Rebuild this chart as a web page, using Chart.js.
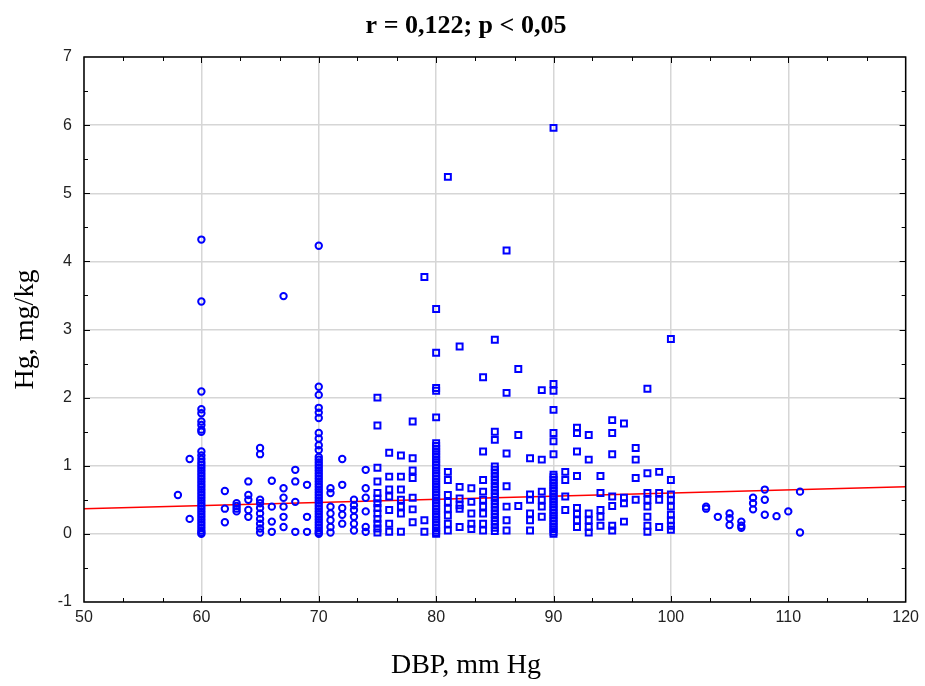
<!DOCTYPE html>
<html>
<head>
<meta charset="utf-8">
<script src="https://cdn.jsdelivr.net/npm/chart.js@4"></script>
<style>
  html, body { margin:0; padding:0; background:#fff; }
  canvas { display:block; }
</style>
</head>
<body>
<canvas id="chart" width="925" height="686"></canvas>
<script>
// DBP levels (mm Hg) and the Hg values (mg/kg) read at each level
const dbpLevels = [58, 59, 60, 62, 63, 64, 65, 66, 67, 68, 69, 70, 71, 72, 73, 74, 75, 76, 77, 78, 79, 80,
  81, 82, 83, 84, 85, 86, 87, 88, 89, 90, 91, 92, 93, 94, 95, 96, 97, 98, 99, 100,
  103, 104, 105, 106, 107, 108, 109, 110, 111];
const hgByLevel = [
  [0.57],
  [1.10, 0.22],
  [4.32, 3.41, 2.09, 1.83, 1.77, 1.65, 1.60, 1.53, 1.50, 1.21, 1.15, 1.10, 1.05, 1.01, 0.97, 0.93, 0.89, 0.85, 0.81, 0.77,
   0.73, 0.69, 0.65, 0.61, 0.57, 0.53, 0.49, 0.45, 0.41, 0.37, 0.33, 0.29, 0.25, 0.21, 0.17, 0.13, 0.09, 0.05, 0.02, 0.00],
  [0.63, 0.37, 0.17],
  [0.45, 0.41, 0.37, 0.33],
  [0.77, 0.57, 0.50, 0.35, 0.25],
  [1.26, 1.17, 0.50, 0.45, 0.38, 0.30, 0.22, 0.15, 0.08, 0.02],
  [0.78, 0.40, 0.18, 0.03],
  [3.49, 0.67, 0.53, 0.40, 0.25, 0.10],
  [0.94, 0.77, 0.47, 0.03],
  [0.72, 0.25, 0.03],
  [4.23, 2.16, 2.04, 1.85, 1.78, 1.70, 1.48, 1.40, 1.30, 1.23, 1.13, 1.09, 1.05, 1.01, 0.97, 0.93, 0.89, 0.85, 0.81, 0.77,
   0.73, 0.69, 0.65, 0.61, 0.57, 0.53, 0.49, 0.45, 0.41, 0.37, 0.33, 0.29, 0.25, 0.21, 0.17, 0.13, 0.09, 0.05, 0.02, 0.00],
  [0.67, 0.60, 0.40, 0.30, 0.20, 0.10, 0.02],
  [1.10, 0.72, 0.38, 0.28, 0.15],
  [0.50, 0.42, 0.35, 0.25, 0.15, 0.05],
  [0.94, 0.67, 0.53, 0.33, 0.10, 0.03],
  [2.00, 1.59, 0.97, 0.77, 0.60, 0.52, 0.45, 0.38, 0.30, 0.22, 0.15, 0.08, 0.02],
  [1.19, 0.84, 0.65, 0.55, 0.35, 0.15, 0.03],
  [1.15, 0.84, 0.65, 0.50, 0.40, 0.30, 0.03],
  [1.65, 1.11, 0.93, 0.82, 0.53, 0.36, 0.17],
  [3.77, 0.20, 0.03],
  [3.30, 2.66, 2.14, 2.10, 1.71, 1.33, 1.29, 1.25, 1.21, 1.17, 1.13, 1.09, 1.05, 1.01, 0.97, 0.93, 0.89, 0.85, 0.81, 0.77,
   0.73, 0.69, 0.65, 0.61, 0.57, 0.53, 0.49, 0.45, 0.41, 0.37, 0.33, 0.29, 0.25, 0.21, 0.17, 0.13, 0.09, 0.05, 0.02, 0.00],
  [5.24, 0.91, 0.79, 0.57, 0.47, 0.37, 0.27, 0.15, 0.05],
  [2.75, 0.69, 0.52, 0.42, 0.37, 0.10],
  [0.67, 0.47, 0.30, 0.15, 0.07],
  [2.30, 1.21, 0.79, 0.62, 0.50, 0.40, 0.30, 0.15, 0.05],
  [2.85, 1.50, 1.38, 0.99, 0.94, 0.89, 0.84, 0.79, 0.74, 0.69, 0.64, 0.59, 0.54, 0.49, 0.44, 0.39, 0.34, 0.29, 0.24, 0.19, 0.14, 0.09, 0.04],
  [4.16, 2.07, 1.18, 0.70, 0.40, 0.20, 0.05],
  [2.42, 1.45, 0.41],
  [1.11, 0.58, 0.50, 0.30, 0.20, 0.05],
  [2.11, 1.09, 0.62, 0.50, 0.40, 0.25],
  [5.96, 2.20, 2.10, 1.82, 1.48, 1.36, 1.17, 0.87, 0.83, 0.79, 0.75, 0.71, 0.67, 0.63, 0.59, 0.55, 0.51, 0.47, 0.43, 0.39,
   0.35, 0.31, 0.27, 0.23, 0.19, 0.15, 0.11, 0.07, 0.03, 0.00],
  [0.91, 0.79, 0.55, 0.35],
  [1.56, 1.48, 1.21, 0.85, 0.38, 0.30, 0.20, 0.10],
  [1.45, 1.09, 0.30, 0.20, 0.10, 0.02],
  [0.85, 0.60, 0.35, 0.25, 0.12],
  [1.67, 1.48, 1.17, 0.55, 0.41, 0.12, 0.05],
  [1.62, 0.53, 0.45, 0.18],
  [1.26, 1.09, 0.82, 0.50],
  [2.13, 0.89, 0.60, 0.50, 0.40, 0.25, 0.12, 0.03],
  [0.91, 0.60, 0.50, 0.10],
  [2.86, 0.79, 0.58, 0.50, 0.40, 0.28, 0.20, 0.12, 0.06],
  [0.40, 0.37],
  [0.25],
  [0.30, 0.23, 0.13],
  [0.18, 0.12, 0.09],
  [0.53, 0.45, 0.36],
  [0.65, 0.50, 0.28],
  [0.26],
  [0.33],
  [0.62, 0.02]
];
// regression line end points
const fitX = [50, 120];
const fitY = [0.37, 0.69];

const xMinor = [53.3, 56.7, 63.3, 66.7, 73.3, 76.7, 83.3, 86.7, 93.3, 96.7, 103.3, 106.7, 113.3, 116.7];
const yMinor = [-0.5, 0.5, 1.5, 2.5, 3.5, 4.5, 5.5, 6.5];

const points = [];
dbpLevels.forEach((d, i) => hgByLevel[i].forEach(v => points.push({x: d, y: v})));
const fitLine = fitX.map((x, i) => ({x: x, y: fitY[i]}));

const isRound = c => c.raw && (c.raw.x < 75 || c.raw.x > 100);
const serif = '"Liberation Serif", "Times New Roman", serif';

const framePlugin = {
  id: 'frame',
  afterDatasetsDraw(chart) {
    const {ctx, chartArea: a, scales: {x, y}} = chart;
    ctx.save();
    ctx.strokeStyle = '#000';
    ctx.lineWidth = 1.5;
    ctx.strokeRect(a.left, a.top, a.right - a.left, a.bottom - a.top);
    ctx.lineWidth = 1;
    ctx.beginPath();
    for (let v = 60; v <= 110; v += 10) {
      const px = Math.round(x.getPixelForValue(v)) + 0.5;
      ctx.moveTo(px, a.bottom); ctx.lineTo(px, a.bottom - 6);
      ctx.moveTo(px, a.top); ctx.lineTo(px, a.top + 6);
    }
    xMinor.forEach(v => {
      const px = Math.round(x.getPixelForValue(v)) + 0.5;
      ctx.moveTo(px, a.bottom); ctx.lineTo(px, a.bottom - 4);
      ctx.moveTo(px, a.top); ctx.lineTo(px, a.top + 4);
    });
    for (let v = 0; v <= 6; v++) {
      const py = Math.round(y.getPixelForValue(v)) + 0.5;
      ctx.moveTo(a.left, py); ctx.lineTo(a.left + 6, py);
      ctx.moveTo(a.right, py); ctx.lineTo(a.right - 6, py);
    }
    yMinor.forEach(v => {
      const py = Math.round(y.getPixelForValue(v)) + 0.5;
      ctx.moveTo(a.left, py); ctx.lineTo(a.left + 4, py);
      ctx.moveTo(a.right, py); ctx.lineTo(a.right - 4, py);
    });
    ctx.stroke();
    // chart title and x axis title
    ctx.fillStyle = '#000';
    ctx.textAlign = 'center';
    ctx.textBaseline = 'middle';
    ctx.font = 'bold 26px ' + serif;
    ctx.fillText('r = 0,122; p < 0,05', 466, 26);
    ctx.font = '28px ' + serif;
    ctx.fillText('DBP, mm Hg', 466, 666);
    ctx.restore();
  }
};

new Chart(document.getElementById('chart'), {
  data: {
    datasets: [
      {
        type: 'scatter',
        data: points,
        borderColor: '#0000ff',
        backgroundColor: 'rgba(0,0,0,0)',
        borderWidth: 2,
        pointStyle: c => isRound(c) ? 'circle' : 'rect',
        pointRadius: c => isRound(c) ? 3.2 : 4.2,
        pointHoverRadius: 4
      },
      {
        type: 'line',
        data: fitLine,
        borderColor: '#ff0000',
        borderWidth: 1.5,
        pointRadius: 0,
        fill: false
      }
    ]
  },
  options: {
    responsive: false,
    animation: false,
    devicePixelRatio: 1,
    layout: { padding: { top: 57, right: 18 } },
    plugins: {
      legend: { display: false },
      tooltip: { enabled: false },
      title: { display: false }
    },
    scales: {
      x: {
        type: 'linear',
        min: 50, max: 120,
        afterFit: s => { s.height = 84; },
        ticks: { stepSize: 10, padding: 6, color: '#222', font: { family: '"Liberation Sans", Arial, sans-serif', size: 16 } },
        grid: { color: '#d6d6d6', lineWidth: 1.5, drawTicks: false },
        border: { display: false }
      },
      y: {
        type: 'linear',
        min: -1, max: 7,
        afterFit: s => { s.width = 84; },
        ticks: { stepSize: 1, padding: 12, color: '#222', font: { family: '"Liberation Sans", Arial, sans-serif', size: 16 } },
        grid: { color: '#d6d6d6', lineWidth: 1.5, drawTicks: false },
        border: { display: false },
        title: {
          display: true,
          text: 'Hg, mg/kg',
          color: '#000',
          font: { family: serif, size: 28, lineHeight: 1.2 },
          padding: { top: 9 }
        }
      }
    }
  },
  plugins: [framePlugin]
});
</script>
</body>
</html>
